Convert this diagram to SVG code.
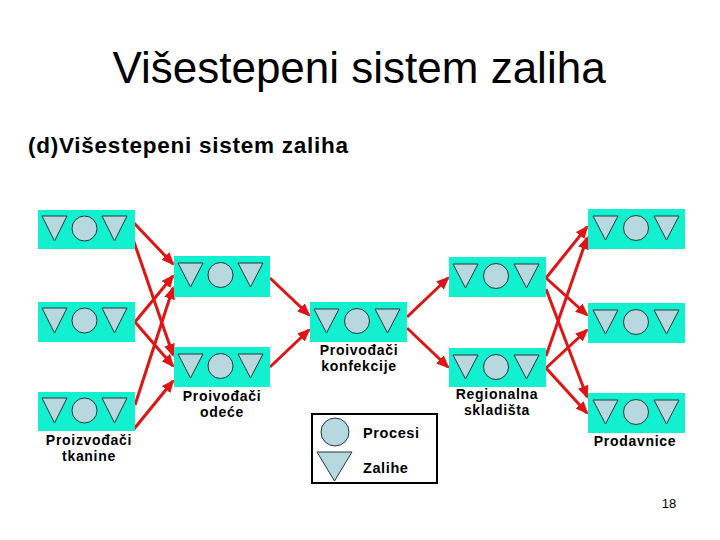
<svg xmlns="http://www.w3.org/2000/svg" width="720" height="540" viewBox="0 0 720 540">
<style>
.box{fill:#12F0D0}
.sh{fill:#B6D8DE;stroke:#1E3A3A;stroke-width:1}
.cn{stroke:#E01414;stroke-width:3;fill:none;marker-end:url(#ah)}
.lbl{font-family:"Liberation Sans",Arial,sans-serif;font-weight:bold;font-size:14px;fill:#000;text-anchor:middle;letter-spacing:0.7px}
.leg{font-family:"Liberation Sans",Arial,sans-serif;font-weight:bold;font-size:14.5px;fill:#000;text-anchor:start;letter-spacing:0.6px}
</style>
<defs>
<marker id="ah" markerUnits="userSpaceOnUse" markerWidth="14" markerHeight="12" refX="11" refY="5.5" orient="auto">
<path d="M0,0 L13,5.5 L0,11 z" fill="#E01414"/>
</marker>
</defs>
<rect width="720" height="540" fill="#fff"/>
<text x="359" y="83" font-family="Liberation Sans,Arial,sans-serif" font-size="44" text-anchor="middle" fill="#000">Višestepeni sistem zaliha</text>
<text x="28" y="153" font-family="Liberation Sans,Arial,sans-serif" font-size="22.5" font-weight="bold" textLength="320" lengthAdjust="spacing" fill="#000">(d)Višestepeni sistem zaliha</text>

<g id="connectors">
<line class="cn" x1="134" y1="223" x2="173" y2="264"/>
<line class="cn" x1="133" y1="239" x2="173" y2="355"/>
<line class="cn" x1="135" y1="322" x2="173" y2="276"/>
<line class="cn" x1="135" y1="322" x2="173" y2="366"/>
<line class="cn" x1="135" y1="405" x2="173" y2="288"/>
<line class="cn" x1="134" y1="429" x2="173" y2="381"/>
<line class="cn" x1="270" y1="278" x2="309" y2="315"/>
<line class="cn" x1="270" y1="367" x2="309" y2="330"/>
<line class="cn" x1="407" y1="317" x2="448" y2="278"/>
<line class="cn" x1="407" y1="328" x2="448" y2="367"/>
<line class="cn" x1="546" y1="278" x2="587" y2="227"/>
<line class="cn" x1="546" y1="278" x2="587" y2="315"/>
<line class="cn" x1="546" y1="289" x2="587" y2="397"/>
<line class="cn" x1="546" y1="356" x2="587" y2="238"/>
<line class="cn" x1="546" y1="368" x2="587" y2="330"/>
<line class="cn" x1="546" y1="368" x2="587" y2="413"/>
</g>

<g id="tkanine1" transform="translate(38,210)"><rect class="box" width="97" height="39"/><polygon class="sh" points="4,6 29,6 16.5,31"/><circle class="sh" cx="46.5" cy="18.5" r="12.5"/><polygon class="sh" points="64,6 89,6 76.5,31"/></g>
<g id="tkanine2" transform="translate(38,302)"><rect class="box" width="97" height="40"/><polygon class="sh" points="4,6 29,6 16.5,31"/><circle class="sh" cx="46.5" cy="18.5" r="12.5"/><polygon class="sh" points="64,6 89,6 76.5,31"/></g>
<g id="tkanine3" transform="translate(38,392)"><rect class="box" width="97" height="39"/><polygon class="sh" points="4,6 29,6 16.5,31"/><circle class="sh" cx="46.5" cy="18.5" r="12.5"/><polygon class="sh" points="64,6 89,6 76.5,31"/></g>
<g id="odece1" transform="translate(174,256)"><rect class="box" width="96" height="41"/><polygon class="sh" points="4,7 29,7 16.5,31"/><circle class="sh" cx="46.5" cy="19" r="12.5"/><polygon class="sh" points="64,7 89,7 76.5,31"/></g>
<g id="odece2" transform="translate(174,347)"><rect class="box" width="96" height="40"/><polygon class="sh" points="4,7 29,7 16.5,31"/><circle class="sh" cx="46.5" cy="19" r="12.5"/><polygon class="sh" points="64,7 89,7 76.5,31"/></g>
<g id="konfekcija" transform="translate(310,302)"><rect class="box" width="97" height="40"/><polygon class="sh" points="4,7 29,7 16.5,31"/><circle class="sh" cx="47" cy="19" r="12.5"/><polygon class="sh" points="65,7 90,7 77.5,31"/></g>
<g id="skladiste1" transform="translate(449,257)"><rect class="box" width="97" height="40"/><polygon class="sh" points="4,7 29,7 16.5,31"/><circle class="sh" cx="47" cy="19" r="12.5"/><polygon class="sh" points="65,7 90,7 77.5,31"/></g>
<g id="skladiste2" transform="translate(449,348)"><rect class="box" width="97" height="39"/><polygon class="sh" points="4,7 29,7 16.5,31"/><circle class="sh" cx="47" cy="19" r="12.5"/><polygon class="sh" points="65,7 90,7 77.5,31"/></g>
<g id="prodavnica1" transform="translate(588,209)"><rect class="box" width="97" height="40"/><polygon class="sh" points="5,7 30,7 17.5,31"/><circle class="sh" cx="48" cy="19" r="12.5"/><polygon class="sh" points="66,7 91,7 78.5,31"/></g>
<g id="prodavnica2" transform="translate(588,303)"><rect class="box" width="97" height="40"/><polygon class="sh" points="5,7 30,7 17.5,31"/><circle class="sh" cx="48" cy="19" r="12.5"/><polygon class="sh" points="66,7 91,7 78.5,31"/></g>
<g id="prodavnica3" transform="translate(588,393)"><rect class="box" width="97" height="40"/><polygon class="sh" points="5,7 30,7 17.5,31"/><circle class="sh" cx="48" cy="19" r="12.5"/><polygon class="sh" points="66,7 91,7 78.5,31"/></g>

<text class="lbl"><tspan x="89" y="445">Proizvođači</tspan><tspan x="89" y="461">tkanine</tspan></text>
<text class="lbl"><tspan x="222" y="401">Proivođači</tspan><tspan x="222" y="417">odeće</tspan></text>
<text class="lbl"><tspan x="359" y="355">Proivođači</tspan><tspan x="359" y="371">konfekcije</tspan></text>
<text class="lbl"><tspan x="497" y="399">Regionalna</tspan><tspan x="497" y="415">skladišta</tspan></text>
<text class="lbl" x="635" y="446">Prodavnice</text>

<g id="legenda">
<rect x="312" y="414" width="125" height="69" fill="#fff" stroke="#000" stroke-width="2"/>
<circle class="sh" cx="335" cy="432" r="14"/>
<polygon class="sh" points="317,452 352,452 334.5,481"/>
<text class="leg" x="363" y="438">Procesi</text>
<text class="leg" x="363" y="473">Zalihe</text>
</g>

<text x="669" y="508" font-family="Liberation Sans,Arial,sans-serif" font-size="13" text-anchor="middle" fill="#000">18</text>
</svg>
